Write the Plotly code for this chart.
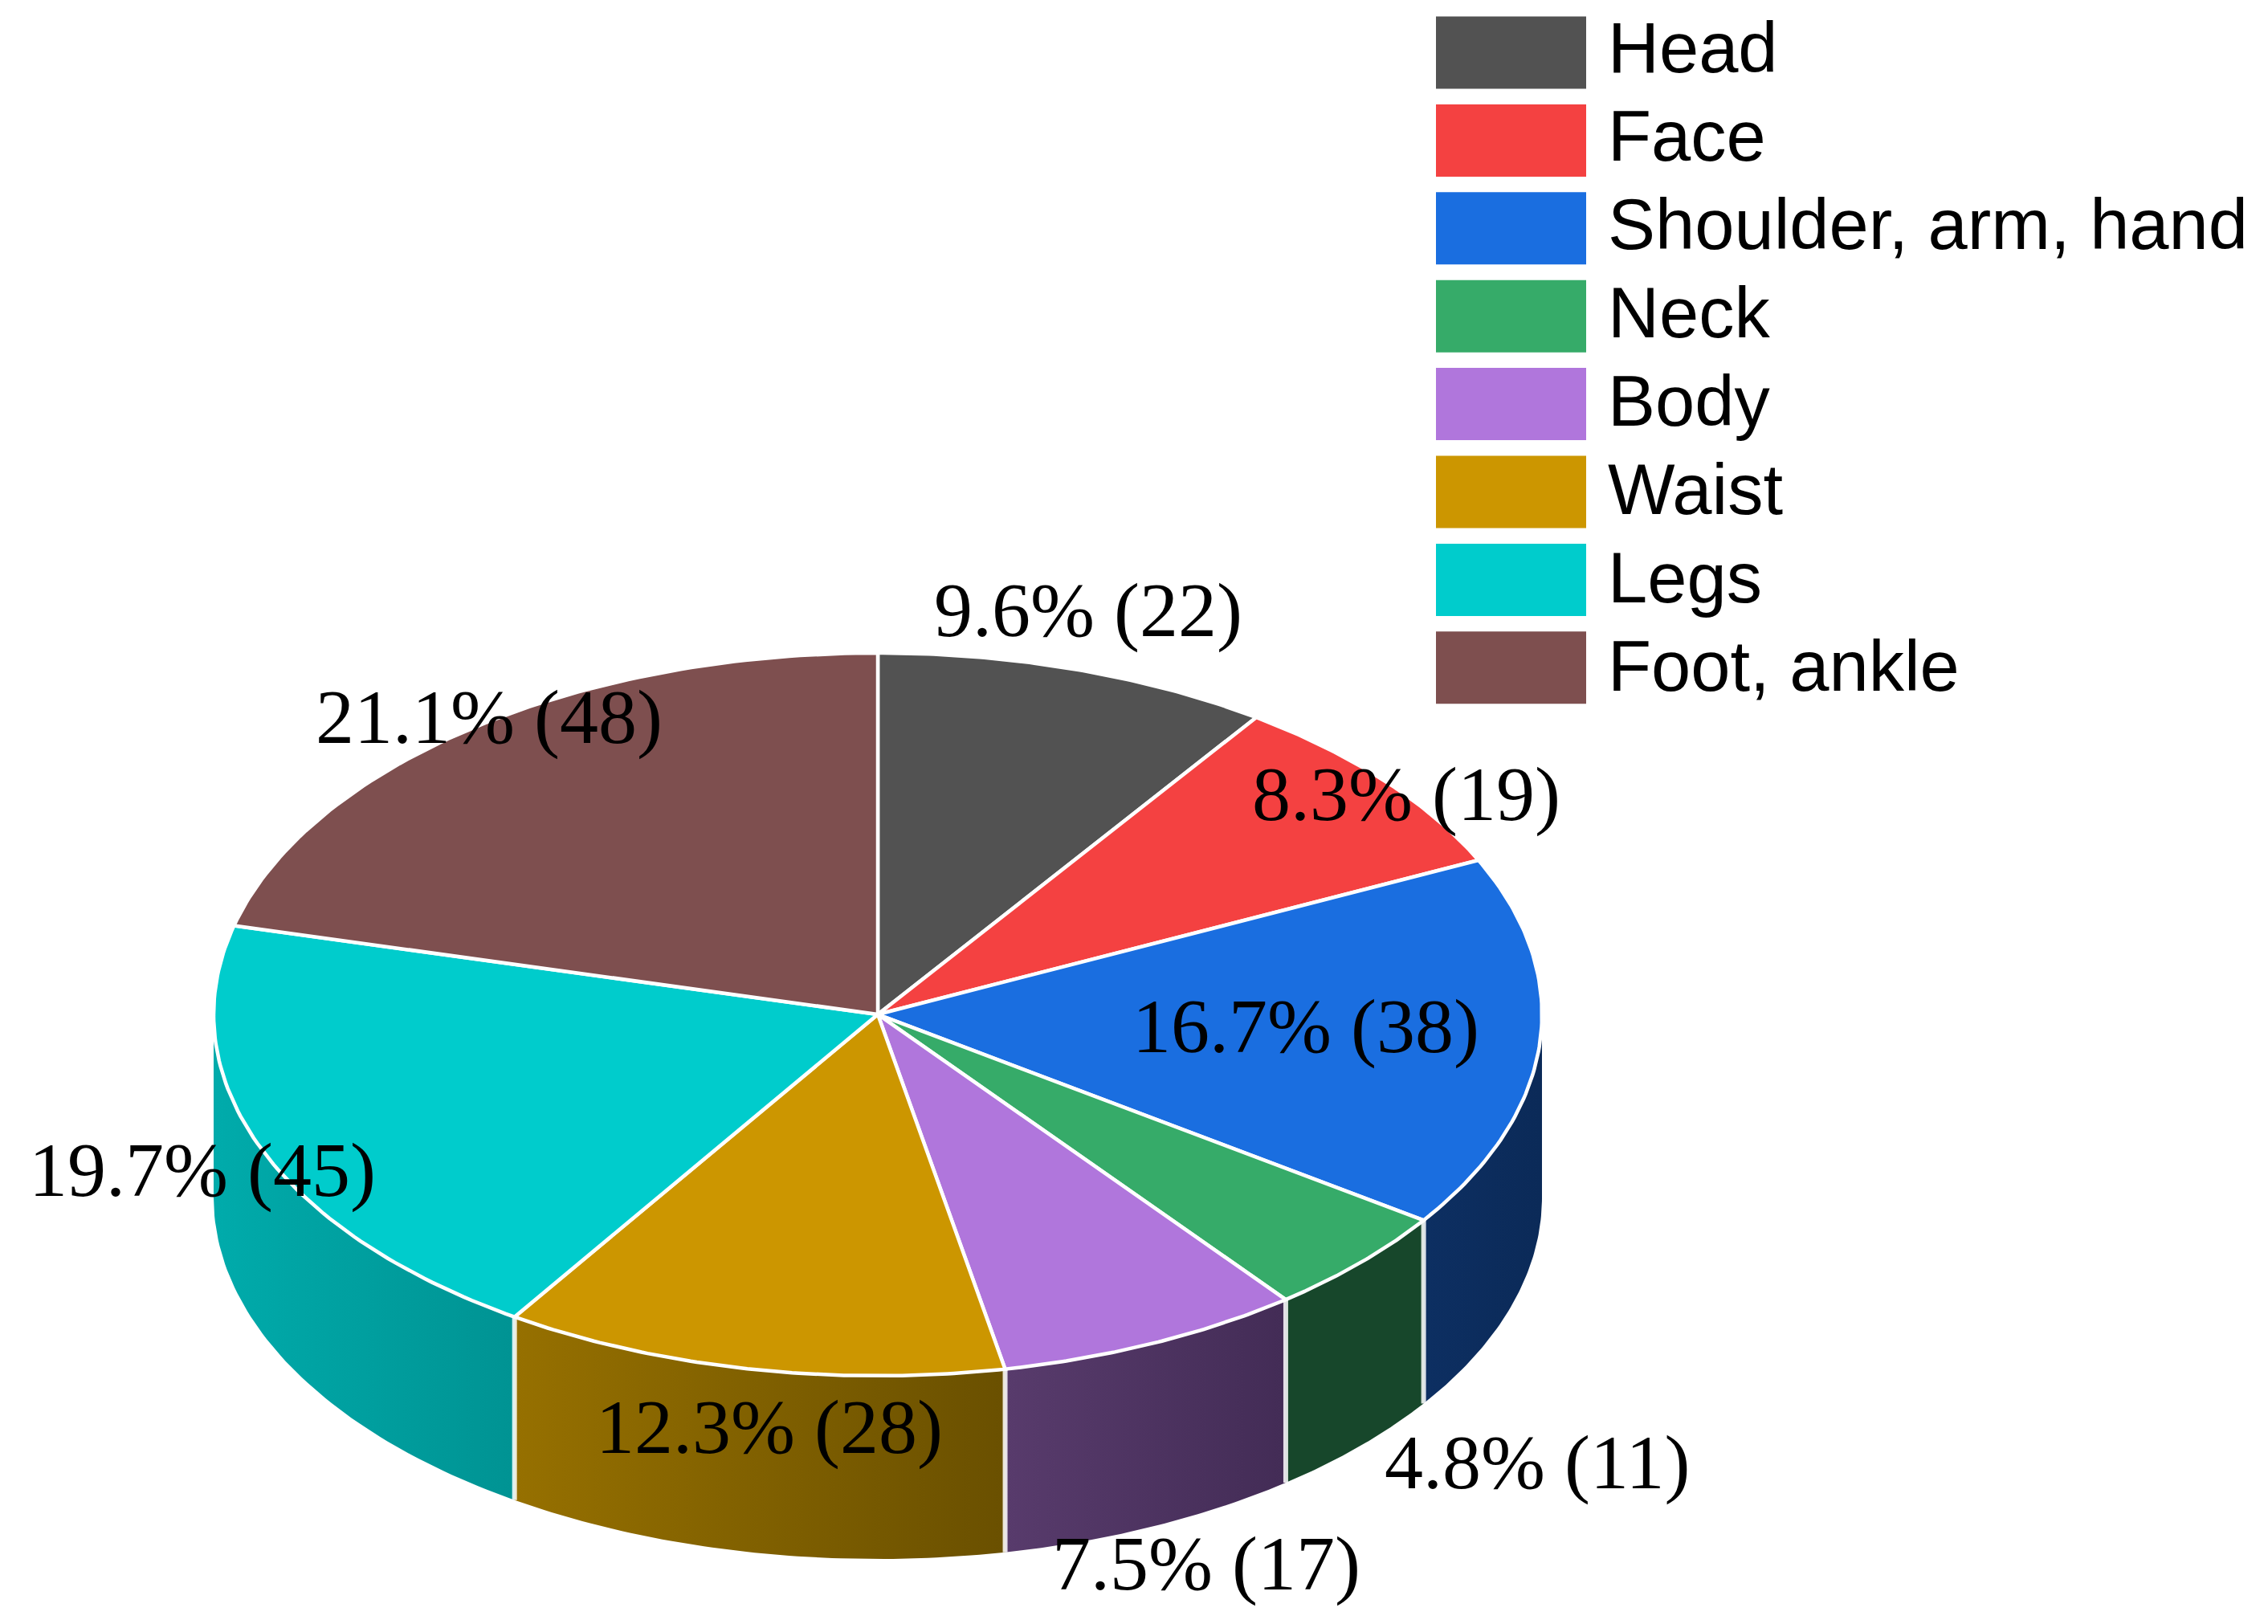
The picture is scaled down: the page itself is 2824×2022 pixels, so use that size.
import numpy as np
import plotly.graph_objects as go

PARTS = ["Head", "Face", "Shoulder, arm, hand", "Neck", "Body", "Waist", "Legs", "Foot, ankle"]
COUNTS = [22, 19, 38, 11, 17, 28, 45, 48]
PERCENTS = ["9.6%", "8.3%", "16.7%", "4.8%", "7.5%", "12.3%", "19.7%", "21.1%"]

TOP_COLORS = ["#525252", "#f44141", "#1a6ee0", "#36ab69", "#b076dc", "#cc9600", "#00cccc", "#7e4f4f"]
SIDE_LEFT = ["#333333", "#8f2626", "#0d2f62", "#17472b", "#583b6c", "#967000", "#00abab", "#4f3232"]
SIDE_RIGHT = ["#333333", "#8f2626", "#0b2a58", "#17472b", "#432c56", "#6a5000", "#009393", "#4f3232"]

W, H = 2824, 2022
CX, CY = 1093, 1263
RX, RY = 827, 450
DEPTH = 228

# label centres, in page pixels
LABEL_X = [1355, 1751, 1626, 1914, 1502, 958, 252, 609]
LABEL_Y = [759, 988, 1277, 1820, 1946, 1776, 1456, 892]


def rim(t):
    return CX + RX * np.sin(t), CY - RY * np.cos(t)


fig = go.Figure()

edges = np.cumsum([0] + COUNTS) / sum(COUNTS) * 2 * np.pi

# side wall: only the front half of the disc shows
for i, part in enumerate(PARTS):
    a, b = max(edges[i], np.pi / 2), min(edges[i + 1], 3 * np.pi / 2)
    if a >= b:
        continue
    t = np.linspace(a, b, 60)
    x, y = rim(t)
    fig.add_trace(go.Scatter(
        x=np.r_[x, x[::-1]],
        y=np.r_[y, y[::-1] + DEPTH],
        mode="lines",
        fill="toself",
        fillgradient=dict(type="horizontal", colorscale=[[0, SIDE_LEFT[i]], [1, SIDE_RIGHT[i]]]),
        line=dict(width=0),
        hoverinfo="skip",
        showlegend=False,
    ))

# white seams between the wall pieces
for e in edges[1:-1]:
    if np.pi / 2 < e < 3 * np.pi / 2:
        x, y = rim(e)
        fig.add_trace(go.Scatter(
            x=[x, x], y=[y, y + DEPTH], mode="lines",
            line=dict(color="rgba(255,255,255,0.85)", width=6),
            hoverinfo="skip", showlegend=False,
        ))

# top face
for i, part in enumerate(PARTS):
    t = np.linspace(edges[i], edges[i + 1], 80)
    x, y = rim(t)
    fig.add_trace(go.Scatter(
        x=np.r_[CX, x, CX],
        y=np.r_[CY, y, CY],
        mode="lines",
        fill="toself",
        fillcolor=TOP_COLORS[i],
        line=dict(color="white", width=4.5),
        name=part,
        text=f"{PERCENTS[i]} ({COUNTS[i]})",
        hoverinfo="name+text",
        showlegend=False,
    ))

for i in range(len(PARTS)):
    fig.add_annotation(
        x=LABEL_X[i], y=LABEL_Y[i], text=f"{PERCENTS[i]} ({COUNTS[i]})", showarrow=False,
        xanchor="center", yanchor="middle",
        font=dict(family="Liberation Serif", size=96, color="black"),
    )

# legend, drawn by hand because the swatches are much larger than plotly's own
for i, part in enumerate(PARTS):
    mid = 65.5 + i * 109.4
    fig.add_shape(type="rect", x0=1788, x1=1975, y0=mid - 45, y1=mid + 45,
                  fillcolor=TOP_COLORS[i], line=dict(width=0), layer="above")
    fig.add_annotation(
        x=2000, y=59 + i * 110, text=part, showarrow=False, xanchor="left", yanchor="middle",
        font=dict(family="Liberation Sans", size=88.5, color="black"),
    )

fig.update_layout(
    width=W,
    height=H,
    margin=dict(l=0, r=0, t=0, b=0),
    paper_bgcolor="white",
    plot_bgcolor="white",
    showlegend=False,
    xaxis=dict(range=[0, W], visible=False, fixedrange=True),
    yaxis=dict(range=[H, 0], visible=False, fixedrange=True),
)

fig.write_html("out.html", config=dict(displayModeBar=False), post_script="document.body.style.margin='0';")
